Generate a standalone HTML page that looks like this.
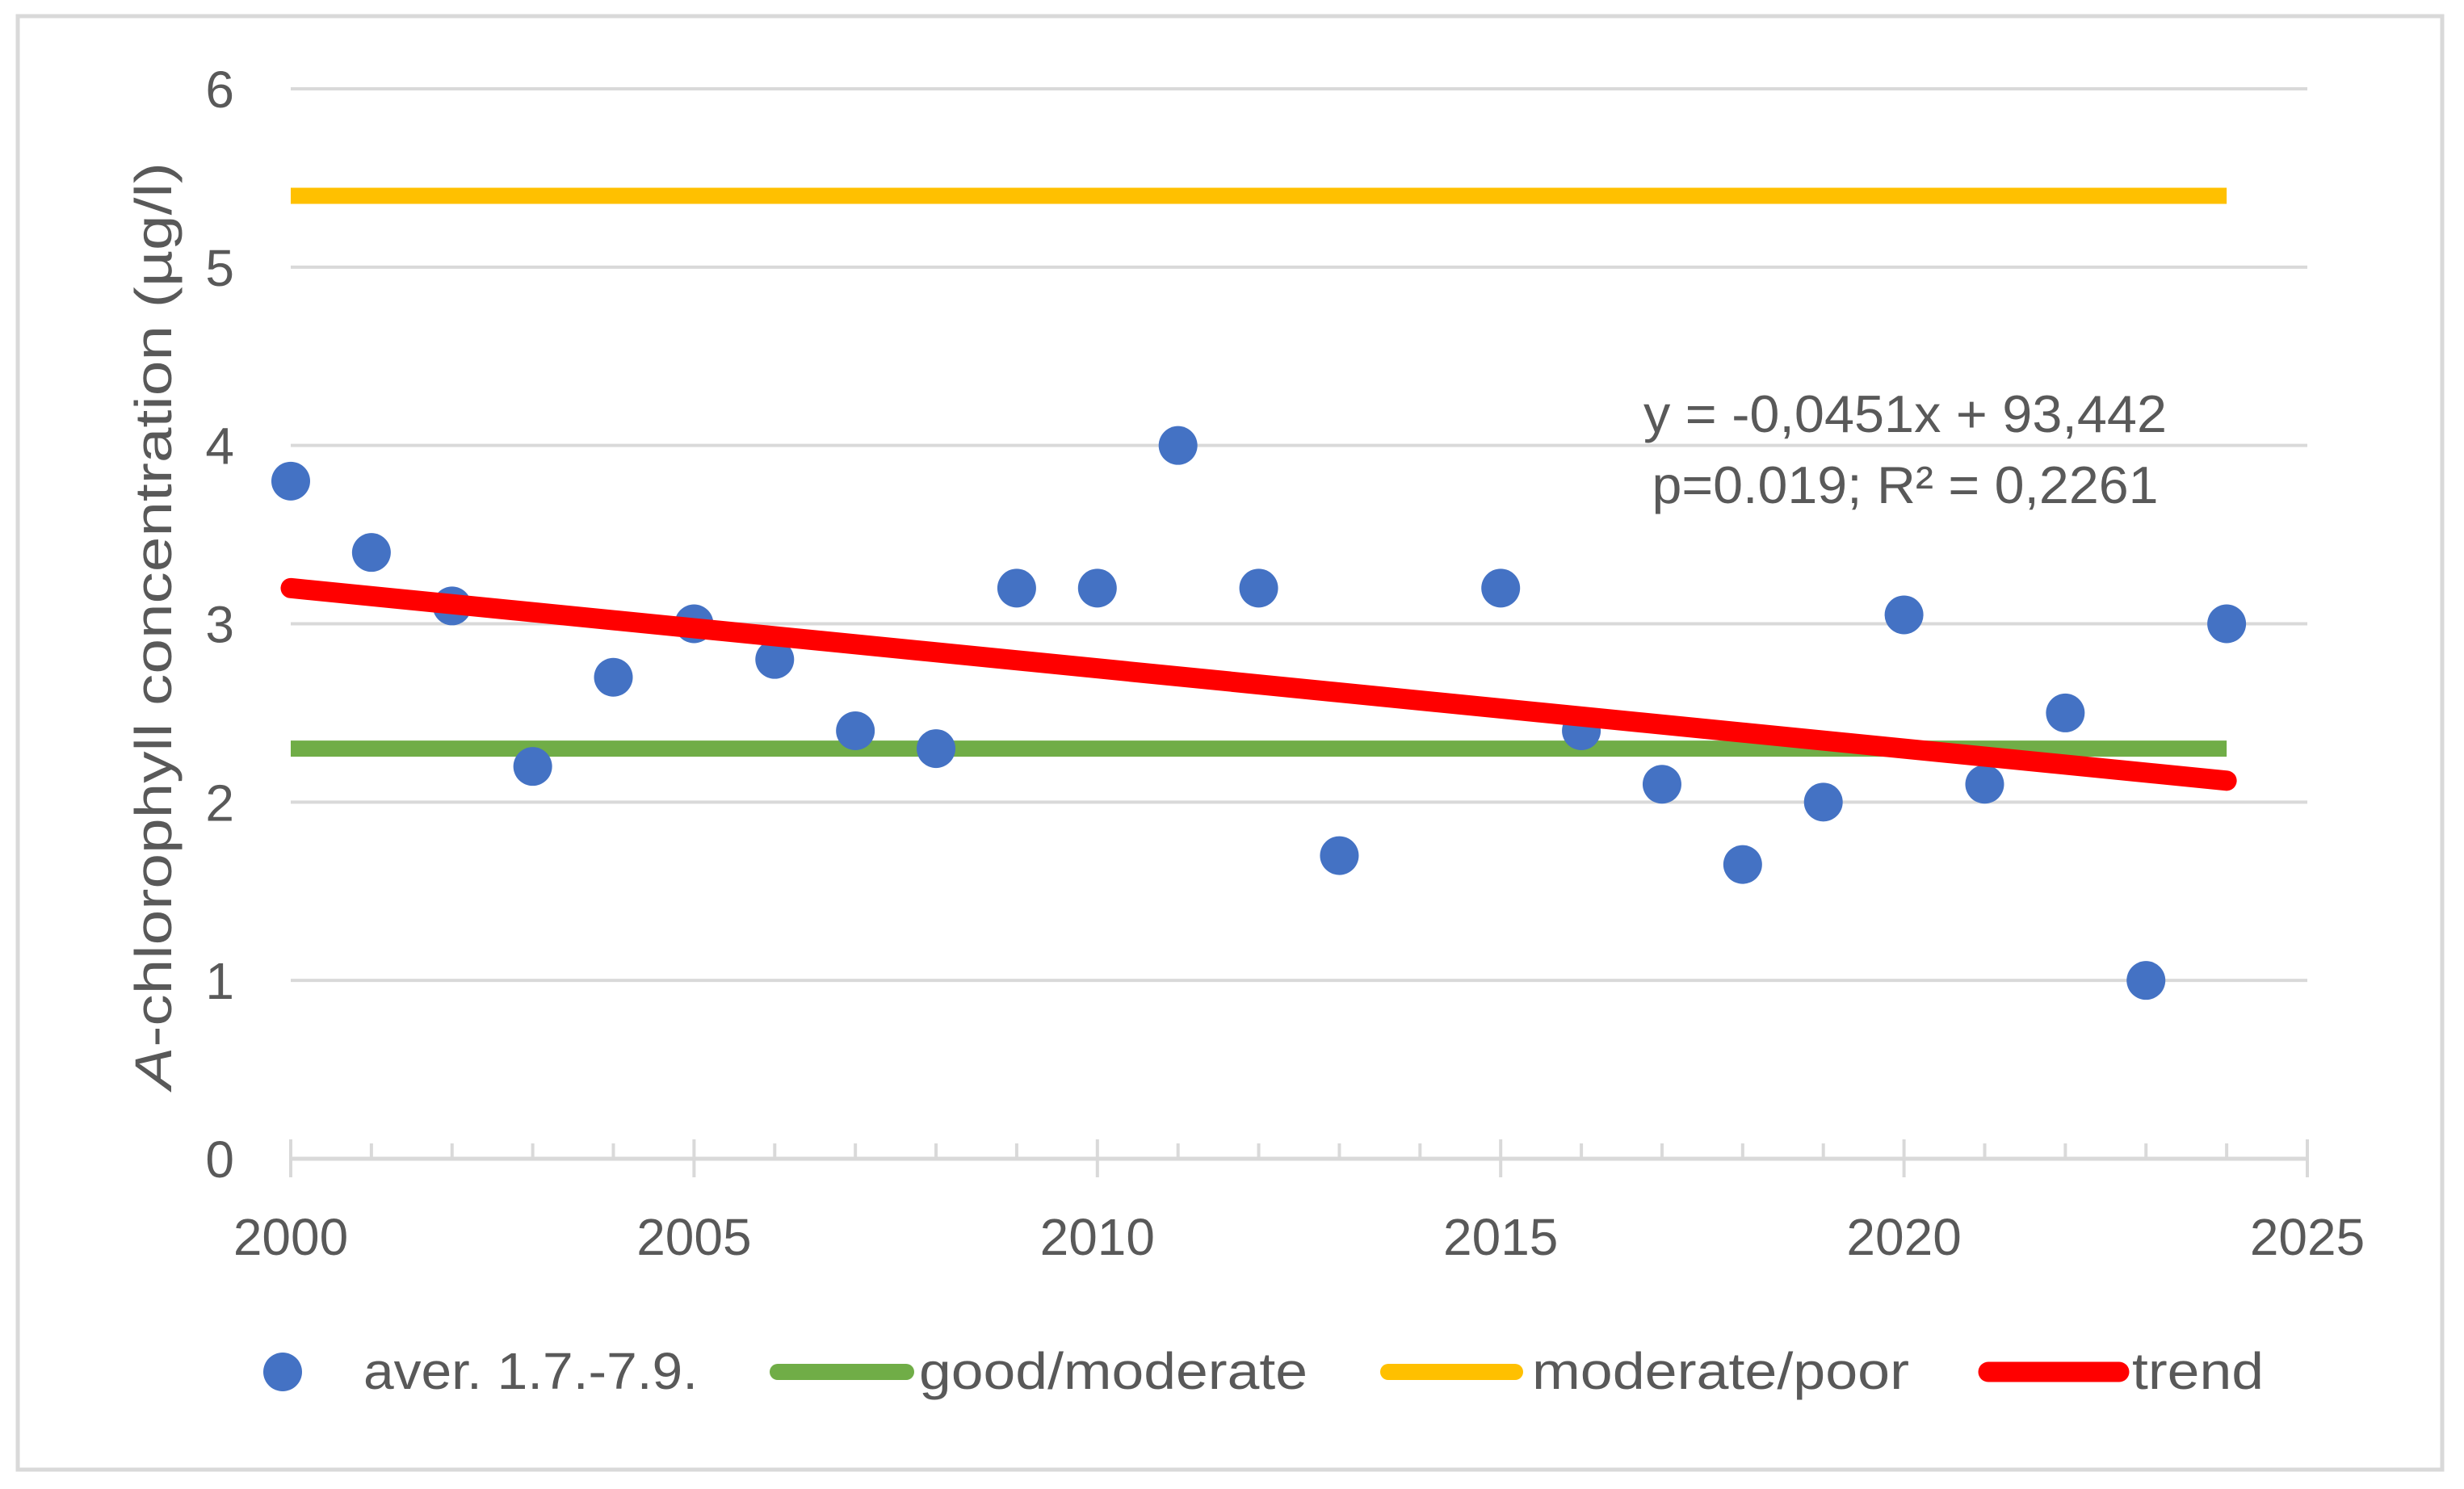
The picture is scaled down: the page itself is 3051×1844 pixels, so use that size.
<!DOCTYPE html>
<html><head><meta charset="utf-8">
<style>
html,body{margin:0;padding:0;background:#fff;}
svg{display:block;font-family:"Liberation Sans",sans-serif;}
</style></head>
<body>
<svg id="chart" width="3051" height="1844" viewBox="0 0 3051 1844" xmlns="http://www.w3.org/2000/svg">
<rect x="0" y="0" width="3051" height="1844" fill="#fff"/>
<rect x="22" y="20" width="3002" height="1800" fill="none" stroke="#d9d9d9" stroke-width="5"/>
<g id="grid"></g>
<g id="axis"></g>
<g id="series"></g>
<text transform="translate(212,775) rotate(-90)" text-anchor="middle" font-size="64" fill="#595959" textLength="1148" lengthAdjust="spacingAndGlyphs"><tspan font-style="italic">A</tspan>-chlorophyll concentration (µg/l)</text>
<text x="2359" y="535" text-anchor="middle" font-size="65" fill="#595959" textLength="648" lengthAdjust="spacingAndGlyphs">y = -0,0451x + 93,442</text>
<text x="2359" y="623" text-anchor="middle" font-size="65" fill="#595959" textLength="627" lengthAdjust="spacingAndGlyphs">p=0.019; R² = 0,2261</text>
<g>
  <circle cx="350" cy="1699" r="24" fill="#4472c4"/>
  <text x="450" y="1720" font-size="64" fill="#595959" textLength="414" lengthAdjust="spacingAndGlyphs">aver. 1.7.-7.9.</text>
  <line x1="963" y1="1699" x2="1122" y2="1699" stroke="#70ad47" stroke-width="20" stroke-linecap="round"/>
  <text x="1138" y="1720" font-size="64" fill="#595959" textLength="481" lengthAdjust="spacingAndGlyphs">good/moderate</text>
  <line x1="1719" y1="1699" x2="1876" y2="1699" stroke="#ffc000" stroke-width="20" stroke-linecap="round"/>
  <text x="1897" y="1720" font-size="64" fill="#595959" textLength="467" lengthAdjust="spacingAndGlyphs">moderate/poor</text>
  <line x1="2462" y1="1699" x2="2624" y2="1699" stroke="#ff0000" stroke-width="25" stroke-linecap="round"/>
  <text x="2640" y="1720" font-size="64" fill="#595959" textLength="163" lengthAdjust="spacingAndGlyphs">trend</text>
</g>
</svg>
<script>
const years = [2000,2001,2002,2003,2004,2005,2006,2007,2008,2009,2010,2011,2012,2013,2015,2016,2017,2018,2019,2020,2021,2022,2023,2024];
const averages = [3.8,3.4,3.1,2.2,2.7,3.0,2.8,2.4,2.3,3.2,3.2,4.0,3.2,1.7,3.2,2.4,2.1,1.65,2.0,3.05,2.1,2.5,1.0,3.0];
const goodModerate = 2.3;
const moderatePoor = 5.4;
const trendYears = [2000, 2024];
const trendValues = [3.2, 2.12];
const yTicks = [0,1,2,3,4,5,6];
const xTicks = [2000,2005,2010,2015,2020,2025];
const xMin = 2000, xMax = 2025, yMin = 0, yMax = 6;

const NS = "http://www.w3.org/2000/svg";
const L = 360, R = 2857, T = 110, B = 1435;
function xs(v){ return L + (v - xMin) / (xMax - xMin) * (R - L); }
function ys(v){ return B - (v - yMin) / (yMax - yMin) * (B - T); }
function mk(tag, attrs, parent){ const e = document.createElementNS(NS, tag); for (const k in attrs) e.setAttribute(k, attrs[k]); parent.appendChild(e); return e; }

const grid = document.getElementById('grid');
const axis = document.getElementById('axis');
const series = document.getElementById('series');

yTicks.forEach(t => {
  if (t !== 0) {
    const g = mk('line', {x1: L, x2: R, y1: ys(t), y2: ys(t), stroke: '#d9d9d9', 'stroke-width': 4}, grid);
    
    
  }
  const tx = mk('text', {x: 290, y: ys(t) + 23, 'text-anchor': 'end', 'font-size': 64, fill: '#595959'}, axis);
  tx.textContent = t;
  
  
});

const ax = mk('line', {x1: L, x2: R, y1: B, y2: B, stroke: '#d9d9d9', 'stroke-width': 5}, axis);


for (let y = xMin; y <= xMax; y++) {
  const major = (y % 5 === 0);
  const tk = mk('line', {x1: xs(y), x2: xs(y), y1: major ? 1411 : 1416, y2: major ? 1458 : B, stroke: '#d9d9d9', 'stroke-width': 4}, axis);
  
  
}
xTicks.forEach(t => {
  const tx = mk('text', {x: xs(t), y: 1554, 'text-anchor': 'middle', 'font-size': 64, fill: '#595959'}, axis);
  tx.textContent = t;
  
  
});

const yFirst = years[0], yLast = years[years.length - 1];
const gm = mk('line', {x1: xs(yFirst), x2: xs(yLast), y1: ys(goodModerate), y2: ys(goodModerate), stroke: '#70ad47', 'stroke-width': 20}, series);


const mp = mk('line', {x1: xs(yFirst), x2: xs(yLast), y1: ys(moderatePoor), y2: ys(moderatePoor), stroke: '#ffc000', 'stroke-width': 20}, series);



years.forEach((yr, i) => {
  const c = mk('circle', {cx: xs(yr), cy: ys(averages[i]), r: 24, fill: '#4472c4'}, series);
  
  
});

const tr = mk('line', {x1: xs(trendYears[0]), x2: xs(trendYears[1]), y1: ys(trendValues[0]), y2: ys(trendValues[1]), stroke: '#ff0000', 'stroke-width': 25, 'stroke-linecap': 'round'}, series);


</script>
</body></html>
